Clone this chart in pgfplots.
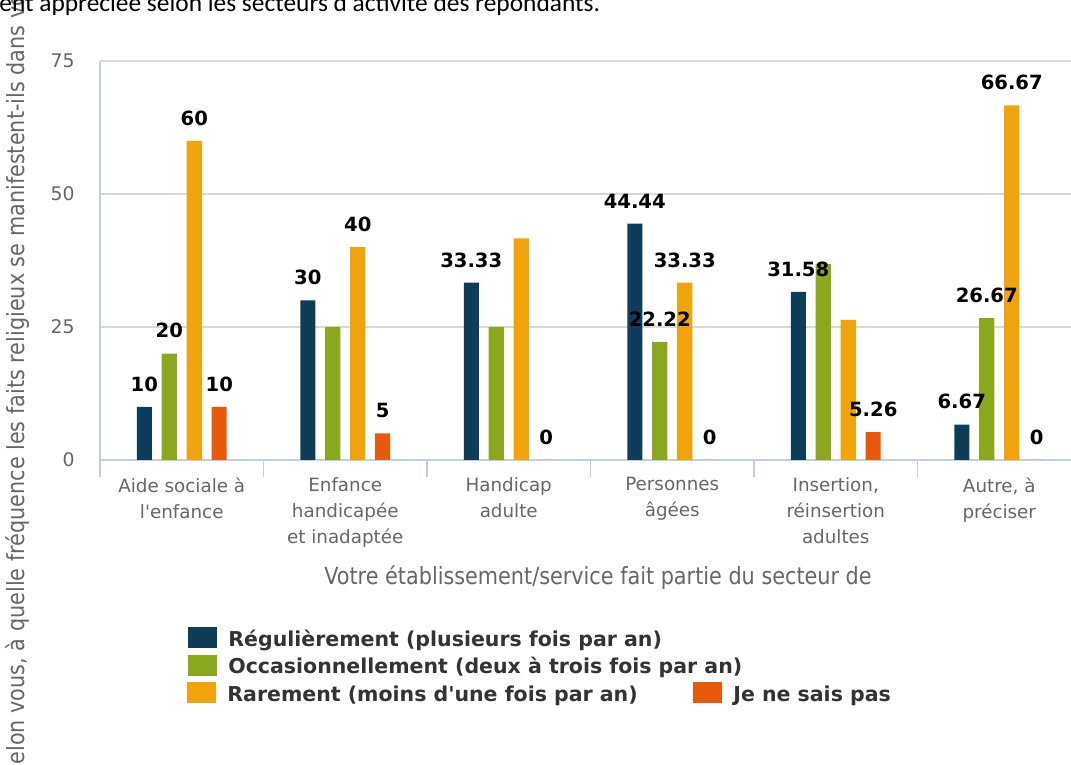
\documentclass[border=0pt]{standalone}
\usepackage{pgfplots}
\usepackage{pgfplotstable}
\pgfplotsset{compat=1.18}
\usepackage{fontspec}
\setmainfont{DejaVu Sans}[Ligatures=TeXOff]
\newfontfamily\condfont[FakeStretch=0.88]{DejaVu Sans}
\newfontfamily\titlefont{Carlito}
\definecolor{regul}{HTML}{0E3D59}
\definecolor{occas}{HTML}{8AA71E}
\definecolor{rarem}{HTML}{F0A30A}
\definecolor{nsp}{HTML}{E8590C}
\definecolor{axisln}{HTML}{C0D0E0}
\definecolor{gridln}{HTML}{D8D8D8}
\definecolor{txtgray}{HTML}{666666}
\definecolor{legtxt}{HTML}{333333}

% x = secteur (0..5), y = pourcentage, lab = etiquette affichee
\pgfplotstableread{
x y lab
0 10 10
1 30 30
2 33.33 33.33
3 44.44 44.44
4 31.58 31.58
5 6.67 6.67
}\regtab
\pgfplotstableread{
x y lab
0 20 20
1 25 {}
2 25 {}
3 22.22 22.22
4 36.84 {}
5 26.67 26.67
}\occtab
\pgfplotstableread{
x y lab
0 60 60
1 40 40
2 41.67 {}
3 33.33 33.33
4 26.32 {}
5 66.67 66.67
}\rartab
\pgfplotstableread{
x y lab
0 10 10
1 5 5
2 0 0
3 0 0
4 5.26 5.26
5 0 0
}\nsptab

\newcommand\legsq[1]{\textcolor{#1}{\rule[-1pt]{14.5pt}{10.5pt}}\hspace{5.5pt}}

\begin{document}
\begin{tikzpicture}
\path[use as bounding box] (0,0) rectangle (535.5pt,382.5pt);
\clip (0,0) rectangle (535.5pt,382.5pt);
\begin{axis}[
  at={(50pt,152.5pt)}, anchor=south west,
  width=490.5pt, height=199.5pt, scale only axis,
  xmin=-0.5, xmax=5.5, ymin=0, ymax=75,
  axis x line*=bottom, axis y line*=left,
  x axis line style={axisln, line width=0.8pt},
  y axis line style={axisln, line width=0.8pt},
  xtick={-0.5,0.5,...,5.5}, x tick label as interval,
  xticklabels={Aide sociale à\\l'enfance, Enfance\\handicapée\\et inadaptée, Handicap\\adulte,
    Personnes\\âgées, {Insertion,\\réinsertion\\adultes}, {Autre, à\\préciser}},
  tick align=outside, major tick length=8.5pt,
  xtick style={axisln, line width=0.8pt},
  xticklabel style={font=\fontsize{9.15}{13}\selectfont, text=txtgray, align=center,
    anchor=north, inner sep=0pt},
  ytick={0,25,50,75}, ymajorgrids, major grid style={gridln, line width=0.6pt},
  ytick style={draw=none},
  yticklabel style={font=\fontsize{9.4}{11}\selectfont, text=txtgray, anchor=east,
    inner sep=0pt, xshift=-4pt},
  /pgf/number format/assume math mode=true,
  point meta=explicit symbolic,
  nodes near coords,
  nodes near coords style={font=\bfseries\fontsize{9.8}{11}\selectfont, text=black,
    inner sep=0pt, yshift=7.5pt},
  legend columns=2,
  legend cell align=left,
  legend image code/.code={},
  legend style={at={(0.0887,-0.416)}, anchor=north west, draw=none, fill=none,
    inner sep=0pt, row sep=0pt, font=\bfseries\fontsize{10.25}{12}\selectfont, text=legtxt,
    nodes={inner sep=0pt, text height=10pt, text depth=3.75pt},
    /tikz/every odd column/.append style={column sep=0pt},
    /tikz/every even column/.append style={column sep=0pt}},
]
\addplot[ybar, bar width=0.092, bar shift=-0.229, fill=regul, draw=none,
  every node near coord/.append style={xshift=-18.75pt}]
  table[x=x, y=y, meta=lab] {\regtab};
\addlegendentry{\makebox[0pt][l]{\legsq{regul}Régulièrement (plusieurs fois par an)}}
\addlegendimage{empty legend}
\addlegendentry{}
\addplot[ybar, bar width=0.092, bar shift=-0.0765, fill=occas, draw=none,
  every node near coord/.append style={xshift=-6.25pt}]
  table[x=x, y=y, meta=lab] {\occtab};
\addlegendentry{\makebox[0pt][l]{\legsq{occas}Occasionnellement (deux à trois fois par an)}}
\addlegendimage{empty legend}
\addlegendentry{}
\addplot[ybar, bar width=0.092, bar shift=0.0765, fill=rarem, draw=none,
  every node near coord/.append style={xshift=6.25pt}]
  table[x=x, y=y, meta=lab] {\rartab};
\addlegendentry{\makebox[253pt][l]{\legsq{rarem}Rarement (moins d'une fois par an)}}
\addplot[ybar, bar width=0.092, bar shift=0.229, fill=nsp, draw=none,
  every node near coord/.append style={xshift=18.75pt}]
  table[x=x, y=y, meta=lab] {\nsptab};
\addlegendentry{\legsq{nsp}Je ne sais pas}
\end{axis}
\node[anchor=center, inner sep=0pt, font=\condfont\fontsize{11.8}{14}\selectfont, text=txtgray]
  at (299pt,93.5pt) {Votre établissement/service fait partie du secteur de};
\node[rotate=90, anchor=west, inner sep=0pt, font=\condfont\fontsize{11.8}{14}\selectfont, text=txtgray]
  at (9pt,-6.5pt) {Selon vous, à quelle fréquence les faits religieux se manifestent-ils dans votre établissement ?};
\node[anchor=base west, inner sep=0pt, font=\titlefont\fontsize{12.7}{15}\selectfont]
  at (-0.5pt,376.5pt) {ent appréciée selon les secteurs d'activité des répondants.};
\end{tikzpicture}
\end{document}
